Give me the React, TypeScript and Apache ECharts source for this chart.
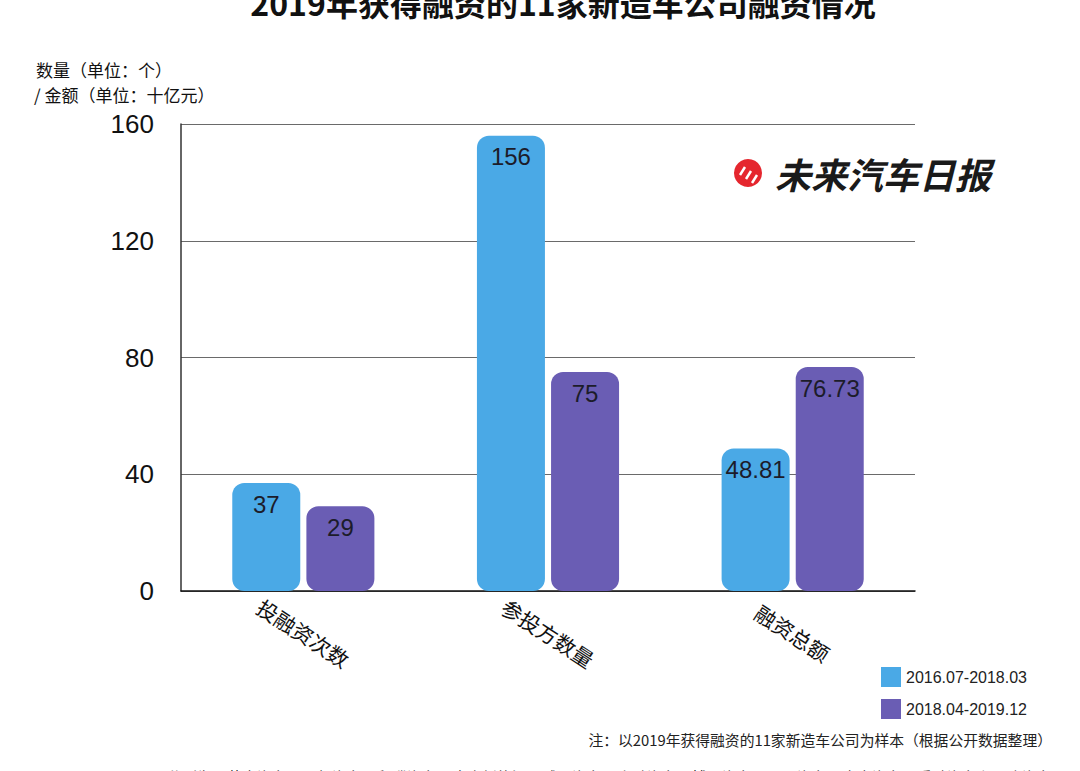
import React, { useEffect, useRef } from "react";
import * as echarts from "echarts";

const categories = ["投融资次数", "参投方数量", "融资总额"];
const seriesNames = ["2016.07-2018.03", "2018.04-2019.12"];
const earlyValues = [37, 156, 48.81];
const lateValues = [29, 75, 76.73];
const yTicks = { min: 0, max: 160, interval: 40 };

const titleText = "2019年获得融资的11家新造车公司融资情况";
const unitLine1 = "数量（单位：个）";
const unitLine2 = "/ 金额（单位：十亿元）";
const noteText = "注：以2019年获得融资的11家新造车公司为样本（根据公开数据整理）";
const listText =
  "分别为：蔚来汽车、理想汽车、拜腾汽车、合众新能源、威马汽车、小鹏汽车、博郡汽车、天际汽车、奇点汽车、爱驰汽车和零跑汽车";
const logoText = "未来汽车日报";

const FONT = "'Liberation Sans', 'Noto Sans CJK SC', sans-serif";
const CJK = "'Noto Sans CJK SC', sans-serif";

export default function App() {
  const ref = useRef<HTMLDivElement>(null);
  useEffect(() => {
    if (!ref.current) return;
    const chart = echarts.init(ref.current, null, { renderer: "svg" });
    const labelStyle = {
      show: true,
      position: "insideTop",
      distance: 9,
      fontSize: 24,
      color: "#1c1c2a",
      fontFamily: FONT,
    };
    chart.setOption({
      animation: false,
      backgroundColor: "#ffffff",
      grid: { left: 181, right: 165, top: 124, bottom: 180, containLabel: false },
      legend: {
        orient: "vertical",
        left: 876,
        top: 662,
        itemWidth: 20,
        itemHeight: 20,
        itemGap: 12,
        icon: "rect",
        textStyle: { fontSize: 16, color: "#222", fontFamily: FONT },
        data: seriesNames,
      },
      xAxis: {
        type: "category",
        data: categories,
        axisLine: { lineStyle: { color: "#111", width: 1.5 } },
        axisTick: { show: false },
        axisLabel: {
          rotate: -33,
          align: "center",
          verticalAlign: "middle",
          margin: 42,
          fontSize: 21,
          color: "#111",
          fontFamily: CJK,
        },
      },
      yAxis: {
        type: "value",
        min: yTicks.min,
        max: yTicks.max,
        interval: yTicks.interval,
        axisLine: { show: true, lineStyle: { color: "#333", width: 1.5 } },
        axisTick: { show: false },
        splitLine: { lineStyle: { color: "#6a6a6a", width: 1 } },
        axisLabel: {
          fontSize: 26,
          color: "#111",
          margin: 27,
          fontFamily: FONT,
        },
      },
      series: [
        {
          name: seriesNames[0],
          type: "bar",
          data: earlyValues,
          barWidth: 68,
          barGap: "9%",
          itemStyle: { color: "#4aa9e6", borderRadius: 12 },
          label: labelStyle,
        },
        {
          name: seriesNames[1],
          type: "bar",
          data: lateValues,
          barWidth: 68,
          itemStyle: { color: "#6a5db4", borderRadius: 12 },
          label: labelStyle,
        },
      ],
      graphic: [
        {
          type: "text",
          x: 563,
          y: 2,
          style: {
            text: titleText,
            fontSize: 32,
            fontWeight: "bold",
            fill: "#111",
            align: "center",
            verticalAlign: "middle",
            fontFamily: CJK,
          },
        },
        {
          type: "text",
          x: 36,
          y: 69,
          style: {
            text: unitLine1,
            fontSize: 17,
            fill: "#111",
            verticalAlign: "middle",
            fontFamily: CJK,
          },
        },
        {
          type: "text",
          x: 34,
          y: 94,
          style: {
            text: unitLine2,
            fontSize: 17,
            fill: "#111",
            verticalAlign: "middle",
            fontFamily: CJK,
          },
        },
        {
          type: "group",
          children: [
            {
              type: "circle",
              shape: { cx: 748, cy: 173, r: 14 },
              style: { fill: "#e5262e" },
            },
            {
              type: "line",
              shape: { x1: 740, y1: 175, x2: 745, y2: 167 },
              style: { stroke: "#fff", lineWidth: 2.5 },
            },
            {
              type: "line",
              shape: { x1: 746, y1: 179, x2: 751, y2: 171 },
              style: { stroke: "#fff", lineWidth: 2.5 },
            },
            {
              type: "line",
              shape: { x1: 752, y1: 183, x2: 757, y2: 175 },
              style: { stroke: "#fff", lineWidth: 2.5 },
            },
            {
              type: "text",
              x: 775,
              y: 173,
              style: {
                text: logoText,
                fontSize: 36,
                fontWeight: "bold",
                fontStyle: "italic",
                fill: "#1a1a1a",
                verticalAlign: "middle",
                fontFamily: CJK,
              },
            },
          ],
        },
        {
          type: "text",
          x: 1052,
          y: 739,
          style: {
            text: noteText,
            fontSize: 14.8,
            fill: "#222",
            align: "right",
            verticalAlign: "middle",
            fontFamily: CJK,
          },
        },
        {
          type: "text",
          x: 1052,
          y: 776,
          style: {
            text: listText,
            fontSize: 15,
            fill: "#222",
            align: "right",
            verticalAlign: "middle",
            fontFamily: CJK,
          },
        },
      ],
    });
    return () => chart.dispose();
  }, []);
  return (
    <div
      ref={ref}
      style={{ position: "fixed", left: 0, top: 0, width: 1080, height: 771 }}
    />
  );
}
